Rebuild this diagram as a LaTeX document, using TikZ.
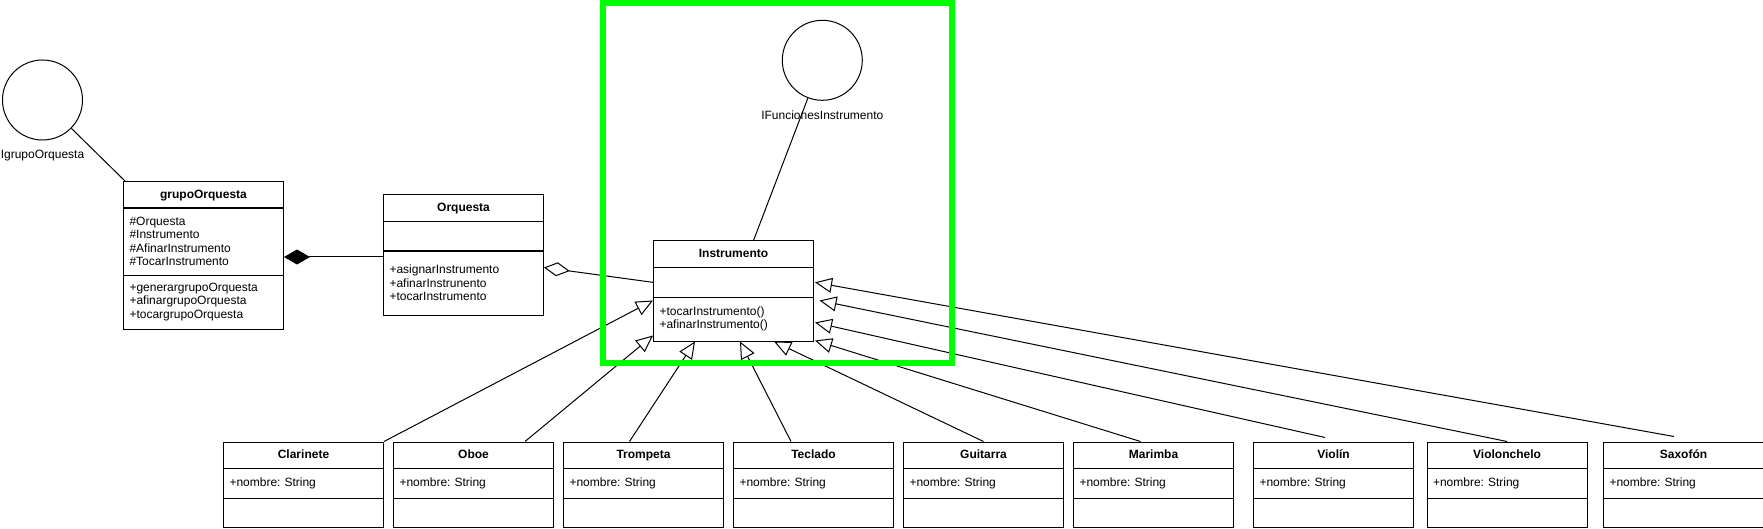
\documentclass[tikz,border=0pt]{standalone}
\usepackage{fontspec}
\setmainfont{Liberation Sans}
\frenchspacing
\usetikzlibrary{matrix,positioning,calc,arrows.meta}

\definecolor{marco}{RGB}{0,255,0}

\tikzset{
  classbox/.style={matrix of nodes, nodes in empty cells, anchor=north west, inner sep=0pt, row sep=-\pgflinewidth,
    nodes={draw, minimum width=160pt, text width=148pt, inner xsep=6pt, inner ysep=0pt, align=left, font=\fontsize{12}{13.4}\selectfont},
    row 1/.style={nodes={align=center, font=\fontsize{12}{13.4}\selectfont\bfseries, text height=9pt, text depth=2.5pt, minimum height=26pt}}},
  subclass/.style={classbox, row 2/.style={nodes={minimum height=30pt, text height=9pt, text depth=2.5pt}}, row 3/.style={nodes={minimum height=29pt}}},
  iface/.style={circle, draw, minimum size=80pt, inner sep=0pt},
  ilabel/.style={inner sep=0pt, text height=9pt, text depth=2.5pt, font=\fontsize{12}{14}\selectfont},
  gen/.style={-{Triangle[open, length=17pt, width=15pt]}},
  comp/.style={-{Diamond[length=26pt, width=15pt]}},
  agg/.style={-{Diamond[open, length=26pt, width=14pt]}}
}

\begin{document}
\begin{tikzpicture}[x=1pt, y=-1pt, line width=1pt]
    \useasboundingbox (0,0) rectangle (1763,529);

    % interfaces
    \node[iface] (igo) at (42.5,100) {};
    \node[ilabel, below=9pt of igo] (igo-l) {IgrupoOrquesta};
    \node[iface] (ifi) at (822.3,60.3) {};
    \node[ilabel, below=9pt of ifi] (ifi-l) {IFuncionesInstrumento};

    % upper classes
    \matrix (grupo)[classbox, row 2/.style={nodes={minimum height=67pt}}, row 3/.style={nodes={minimum height=54pt}}] at (122.5,181)
      {grupoOrquesta \\ {\#Orquesta\\\#Instrumento\\\#AfinarInstrumento\\\#TocarInstrumento} \\ {+generargrupoOrquesta\\+afinargrupoOrquesta\\+tocargrupoOrquesta} \\};
    \matrix (orq)[classbox, row 1/.append style={nodes={minimum height=27pt}}, row 2/.style={nodes={minimum height=29pt}}, row 3/.style={nodes={minimum height=64pt}}] at (382.5,194)
      {Orquesta \\ \\ {+asignarInstrumento\\+afinarInstrunento\\+tocarInstrumento} \\};
    \matrix (inst)[classbox, row 1/.append style={nodes={minimum height=26.7pt}}, row 2/.style={nodes={minimum height=29.3pt}}, row 3/.style={nodes={minimum height=44pt}}] at (652.5,240)
      {Instrumento \\ \\ {+tocarInstrumento()\\+afinarInstrumento()} \\};

    % subclasses
    \matrix (clar)[subclass] at (222.5,441) {Clarinete \\ +nombre: String \\ \\};
    \matrix (oboe)[subclass] at (392.5,441) {Oboe \\ +nombre: String \\ \\};
    \matrix (tromp)[subclass] at (562.5,441) {Trompeta \\ +nombre: String \\ \\};
    \matrix (tecl)[subclass] at (732.5,441) {Teclado \\ +nombre: String \\ \\};
    \matrix (guit)[subclass] at (902.5,441) {Guitarra \\ +nombre: String \\ \\};
    \matrix (mar)[subclass] at (1072.5,441) {Marimba \\ +nombre: String \\ \\};
    \matrix (violin)[subclass] at (1252.5,441) {Violín \\ +nombre: String \\ \\};
    \matrix (cello)[subclass] at (1426,441) {Violonchelo \\ +nombre: String \\ \\};
    \matrix (saxo)[subclass] at (1602.5,441) {Saxofón \\ +nombre: String \\ \\};

    % realizations
    \draw (igo) -- ($(grupo-1-1.north west)+(2.5,0)$);
    \draw (ifi) -- ($(inst-1-1.north)+(20,0)$);

    % composition and aggregation
    \coordinate (comp) at ($(grupo-2-1.south east)+(0,-18.5)$);
    \draw[comp] (orq-3-1.west |- comp) -- (comp);
    \draw[agg] (inst-2-1.west) -- ($(orq-3-1.north east)+(0,17)$);

    % generalizations
    \draw[gen] (clar-1-1.north east) -- ($(inst-3-1.north west)+(0,4)$);
    \draw[gen] ($(oboe-1-1.north)+(51.5,0)$) -- ($(inst-3-1.south west)+(0,-6)$);
    \draw[gen] ($(tromp-1-1.north)+(-14,0)$) -- ($(inst-3-1.south west)+(42,0)$);
    \draw[gen] ($(tecl-1-1.north)+(-22.5,0)$) -- ($(inst-3-1.south west)+(87,0)$);
    \draw[gen] (guit-1-1.north) -- ($(inst-3-1.south west)+(121,0)$);
    \draw[gen] ($(mar-1-1.north)+(-13,0)$) -- ($(inst-3-1.south east)+(1,-1)$);
    \draw[gen] ($(violin-1-1.north)+(-8.5,-4)$) -- ($(inst-3-1.east)+(1,3.5)$);
    \draw[gen] (cello-1-1.north) -- ($(inst-3-1.north east)+(5.5,4)$);
    \draw[gen] ($(saxo-1-1.north)+(-9.5,-5)$) -- ($(inst-2-1.east)+(1,0)$);

    % highlight
    \draw[marco, line width=6pt] (602.5,3.3) rectangle (952,362.5);
\end{tikzpicture}
\end{document}
